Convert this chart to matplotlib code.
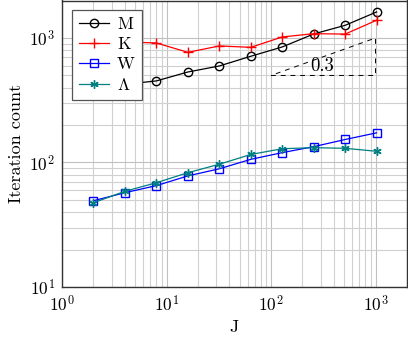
import matplotlib
matplotlib.use("Agg")
import matplotlib.pyplot as plt

plt.rcParams['font.family'] = 'cmr10'
plt.rcParams['mathtext.fontset'] = 'cm'
plt.rcParams['axes.formatter.use_mathtext'] = True
plt.rcParams['font.size'] = 12

J = [2, 4, 8, 16, 32, 64, 128, 256, 512, 1024]
M = [390, 425, 452, 533, 596, 713, 847, 1077, 1264, 1618]
K = [950, 930, 912, 767, 863, 841, 1019, 1083, 1075, 1388]
W = [49.3, 57.2, 65.2, 78, 89, 106, 120, 134, 153, 173]
L = [47.5, 58.7, 68.8, 82.8, 96.8, 116, 129, 131.5, 130, 123]

# slope triangle
tri_x = [100, 1000, 1000, 100]
tri_y = [500, 500, 1000, 500]

fig = plt.figure(figsize=(4.08, 3.38), dpi=100)
ax = fig.add_axes([62/408, 51/338, 345/408, 286.5/338])

ax.plot(J, M, color='black', marker='o', mfc='none', ms=6, lw=0.9, label='M')
ax.plot(J, K, color='red', marker='+', ms=7, lw=0.9, label='K')
ax.plot(J, W, color='blue', marker='s', mfc='none', ms=6, lw=0.9, label='W')
ax.plot(J, L, color='teal', marker=(6, 2, 0), ms=6, mew=1.0, lw=0.9, label=r'$\Lambda$')

ax.plot(tri_x, tri_y, color='black', ls=(0, (5, 5)), lw=0.7)
ax.text(310, 590, '0.3', ha='center', va='center', fontsize=13.5)

ax.set_xscale('log')
ax.set_yscale('log')
ax.set_xlim(1, 2000)
ax.set_ylim(10, 2000)
ax.set_xlabel('J', fontsize=13)
ax.set_ylabel('Iteration count', fontsize=13)

ax.grid(True, which='major', color='#c0c0c0', lw=0.8)
ax.grid(True, which='minor', color='#d0d0d0', lw=0.8)
ax.set_axisbelow(True)
ax.tick_params(which='both', direction='in', length=0, labelsize=12.5, pad=5)
for s in ax.spines.values():
    s.set_color('#333333')
    s.set_linewidth(1.0)

leg = ax.legend(loc='upper left', bbox_to_anchor=(10/345, 1 - 9/286.5), borderaxespad=0,
                fancybox=False, framealpha=1, edgecolor='#555555', handlelength=1.75,
                handletextpad=0.45, borderpad=0.4, labelspacing=0.28, fontsize=12.5)
leg.get_frame().set_linewidth(0.9)

fig.savefig('out.png', dpi=100)
